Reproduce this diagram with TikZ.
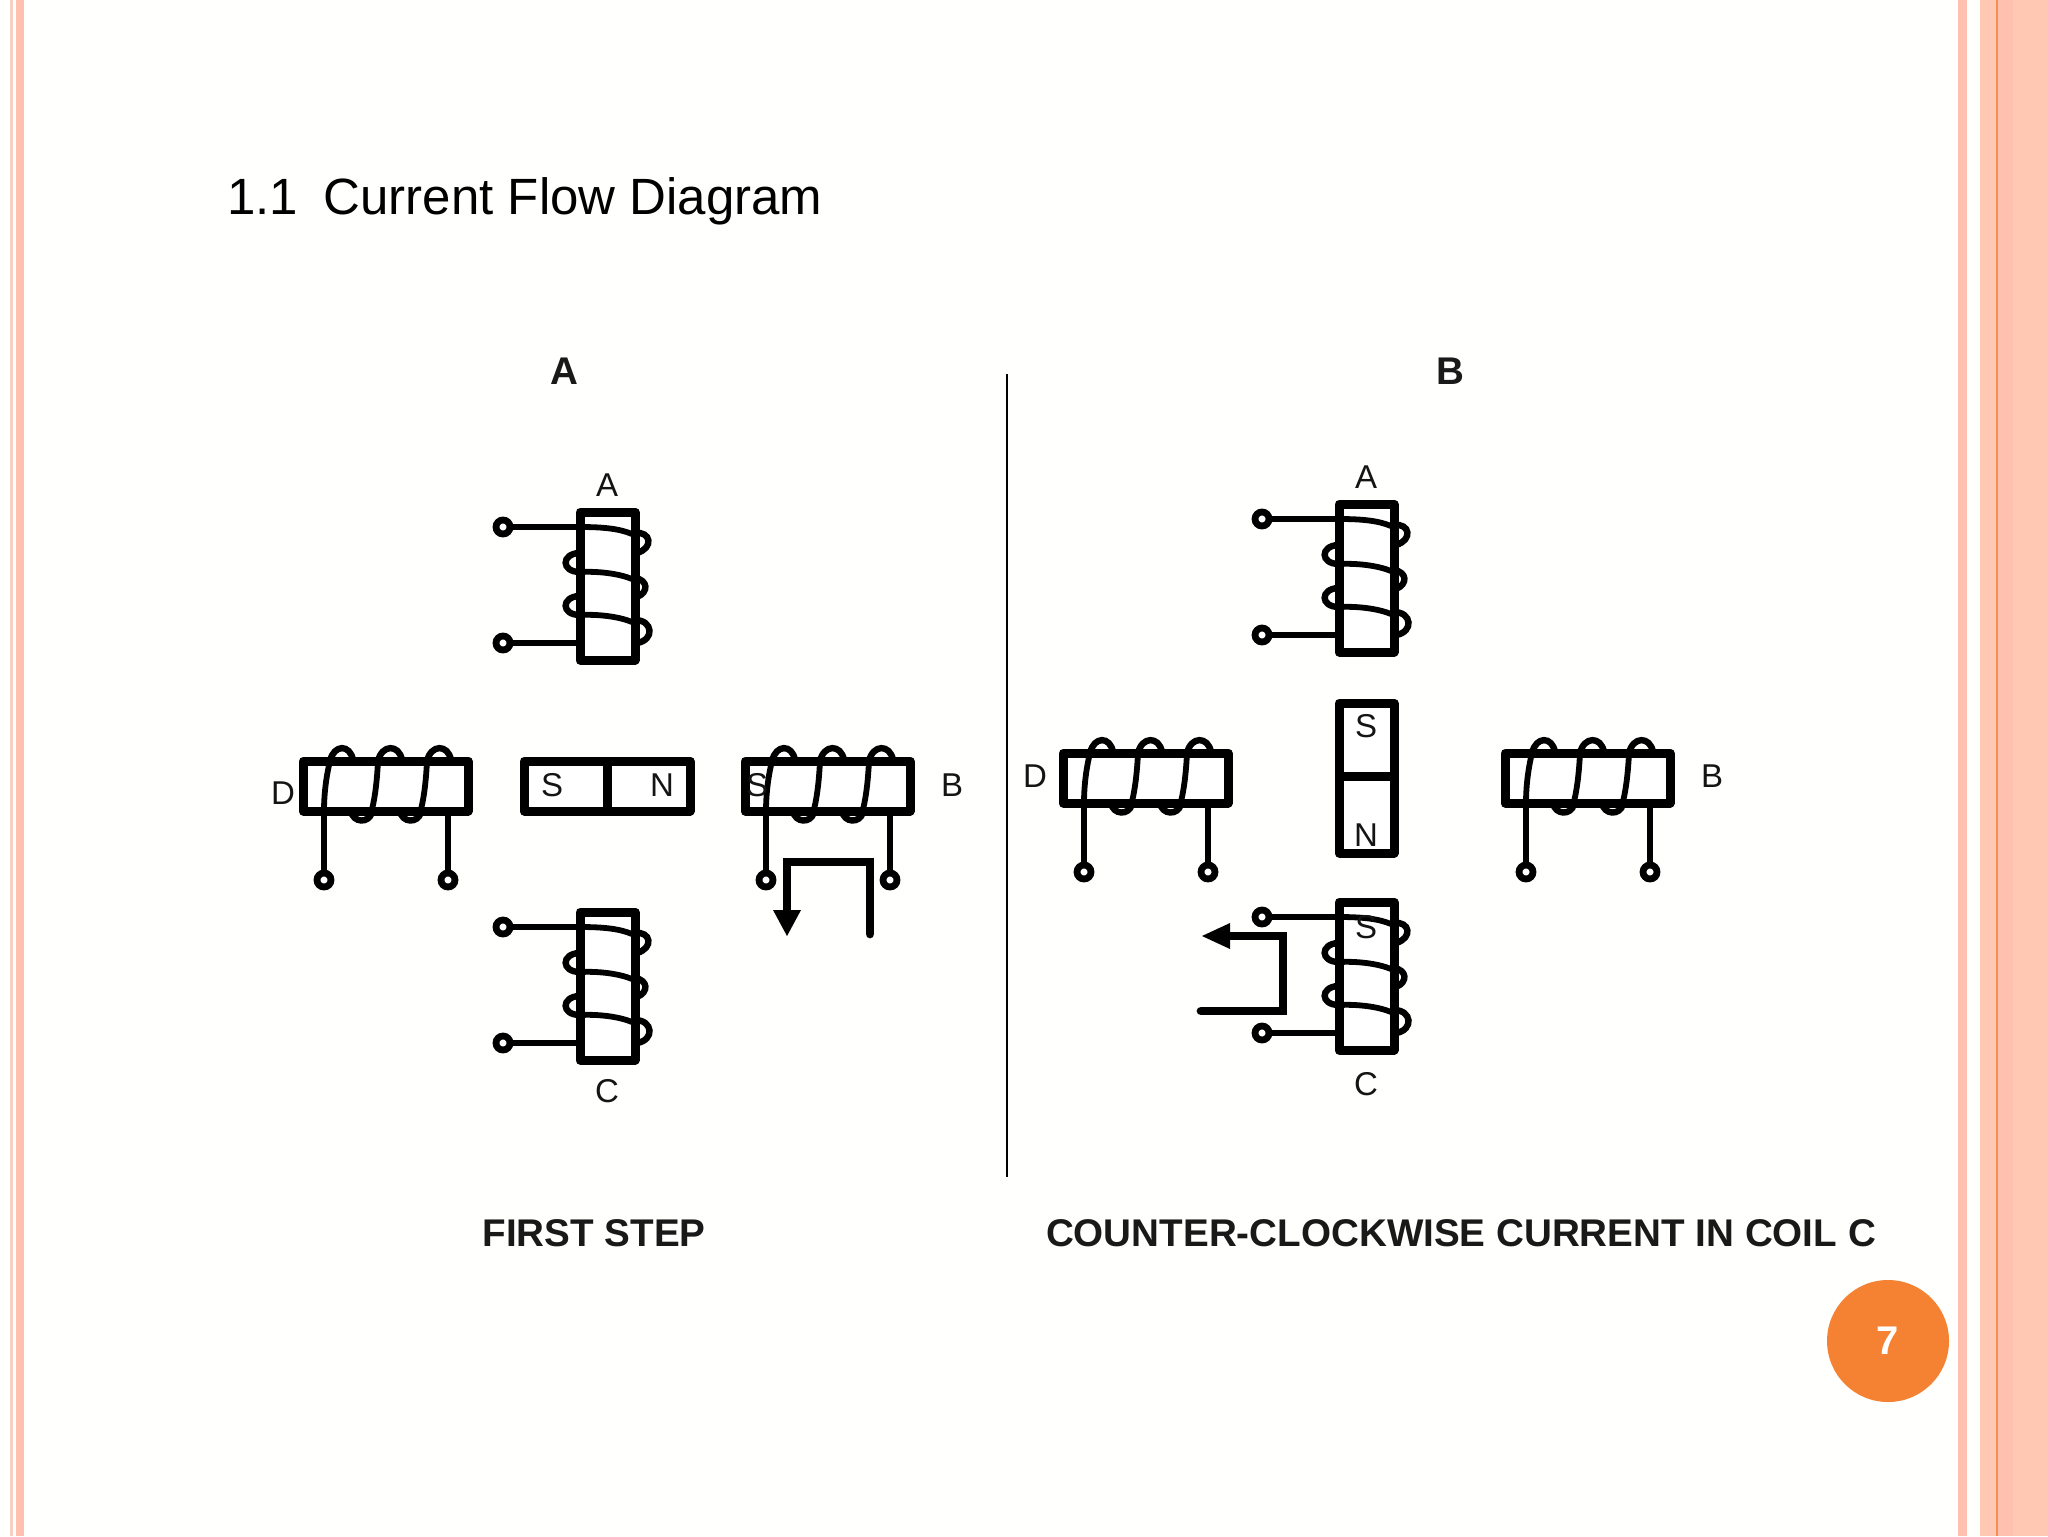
\documentclass[tikz,border=0pt]{standalone}
\usepackage{fontspec}
\setmainfont{Liberation Sans}
\definecolor{bgc}{HTML}{FFFFFE}
\definecolor{barA}{HTML}{FFC0B0}
\definecolor{barB}{HTML}{FFC8B2}
\definecolor{barC}{HTML}{F8CFC5}
\definecolor{lineO}{HTML}{F59050}
\definecolor{numO}{HTML}{F58233}
\tikzset{
  x=0.5pt,y=-0.5pt,
  body/.style={draw=black,line width=4.5pt,line join=round,fill=white},
  wirea/.style={draw=black,line width=2.9pt,line cap=round},
  wireb/.style={draw=black,line width=3.2pt},
  term/.style={draw=black,line width=3.4pt,fill=white},
  flow/.style={draw=black,line width=4.4pt,line join=miter},
  lab/.style={font=\fontsize{16.5pt}{18pt}\selectfont,inner sep=0pt,text=black!92},
  headlab/.style={font=\fontsize{19.3pt}{22pt}\selectfont\bfseries,inner sep=0pt,text=black!90},
  vcoil/.pic={
    \path[body] (0,0) rectangle (55,148);
    \draw[term] (-77,15) circle (7);
    \draw[term] (-77,131) circle (7);
    \draw[wirea] (-70,15) -- (0,15) .. controls (25,15) and (40,17) .. (52,22);
    \draw[wirea] (-70,131) -- (0,131);
    \draw[wireb] (55,21) .. controls (71,19) and (74,36) .. (57,41);
    \draw[wireb] (-1,41) .. controls (-19,42) and (-19,60) .. (0,60);
    \draw[wirea] (0,60) .. controls (20,59) and (40,62) .. (52,67);
    \draw[wireb] (55,66) .. controls (68,68) and (69,80) .. (57,85);
    \draw[wireb] (-1,84) .. controls (-19,85) and (-19,103) .. (0,103);
    \draw[wirea] (0,103) .. controls (20,102) and (40,105) .. (52,110);
    \draw[wireb] (55,108) .. controls (73,108) and (75,128) .. (57,131);
  },
  hcoil/.pic={
    \path[body] (0,0) rectangle (165,50);
    \draw[term] (21,119) circle (7);
    \draw[term] (145,119) circle (7);
    \draw[wirea] (21,112) -- (21,50) .. controls (21,30) and (24,12) .. (27,0);
    \draw[wirea] (145,112) -- (145,50);
    \draw[wireb] (27,0) .. controls (31,-17) and (47,-17) .. (50,-1);
    \draw[wirea] (75,0) .. controls (74,20) and (72,38) .. (68,52);
    \draw[wireb] (75,0) .. controls (79,-17) and (96,-17) .. (99,-1);
    \draw[wireb] (48,50) .. controls (50,62) and (66,63) .. (69,51);
    \draw[wirea] (124,0) .. controls (123,20) and (121,38) .. (117,52);
    \draw[wireb] (124,0) .. controls (128,-17) and (145,-17) .. (148,-1);
    \draw[wireb] (97,50) .. controls (99,62) and (115,63) .. (118,51);
  },
}
\begin{document}
\begin{tikzpicture}
\useasboundingbox (0,0) rectangle (2048,1536);
\fill[bgc] (0,0) rectangle (2048,1536);
% side bars
\fill[barC] (10,0) rectangle (13,1536);
\fill[barA] (16,0) rectangle (24,1536);
\fill[barA] (1958,0) rectangle (1967,1536);
\fill[barB] (1980,0) rectangle (2048,1536);
\fill[lineO] (1996,0) rectangle (1998,1536);
\fill[barA] (1998,0) rectangle (2013,1536);
% title
\node[anchor=base west,inner sep=0pt,font=\fontsize{25.5pt}{30pt}\selectfont] (title) at (227,214) {1.1\hspace{0.5em}Current Flow Diagram};
\node[headlab] (ha) at (564,371) {A};
\node[headlab] (hb) at (1450,371) {B};
\draw[line width=1pt] (1007,374) -- (1007,1177);
% left panel coils
\pic at (580,512) {vcoil};
\pic at (580,912) {vcoil};
\pic at (303,761) {hcoil};
\pic at (745,761) {hcoil};
% right panel coils
\pic at (1339,504) {vcoil};
\pic at (1339,902) {vcoil};
\pic at (1063,753) {hcoil};
\pic at (1505,753) {hcoil};
% magnets
\path[body] (524,761) rectangle (690,811);
\draw[line width=4.5pt] (607,761) -- (607,811);
\path[body] (1339,703) rectangle (1394,853);
\draw[line width=4.5pt] (1339,776) -- (1394,776);
% coil labels left
\node[lab] (la) at (607,485) {A};
\node[lab] (lc) at (607,1091) {C};
\node[lab] (ld) at (283,793) {D};
\node[lab] (lb) at (952,785) {B};
\node[lab] (ls1) at (552,785) {S};
\node[lab] (ln1) at (662,785) {N};
\node[lab] (ls2) at (757,785) {S};
% coil labels right
\node[lab] (ra) at (1366,477) {A};
\node[lab] (rc) at (1366,1084) {C};
\node[lab] (rd) at (1035,776) {D};
\node[lab] (rb) at (1712,776) {B};
\node[lab] (rs1) at (1366,726) {S};
\node[lab] (rn1) at (1366,835) {N};
\node[lab] (rs2) at (1366,927) {S};
% current arrows
\draw[flow,line cap=round] (870,934) -- (870,862) -- (787,862) -- (787,912);
\fill[black] (773,910) -- (801,910) -- (787,936) -- cycle;
\draw[flow,line cap=round] (1201,1011) -- (1283,1011) -- (1283,936) -- (1228,936);
\fill[black] (1230,923) -- (1230,949) -- (1202,936) -- cycle;
% captions
\node[headlab] (c1) at (594,1233) {FIRST STEP};
\node[headlab] (c2) at (1461,1233) {COUNTER-CLOCKWISE CURRENT IN COIL C};
% page number
\node[circle,fill=numO,minimum size=61pt,inner sep=0pt,text=white,font=\fontsize{20pt}{24pt}\selectfont\bfseries] (pg) at (1888,1341) {7};
\end{tikzpicture}
\end{document}
